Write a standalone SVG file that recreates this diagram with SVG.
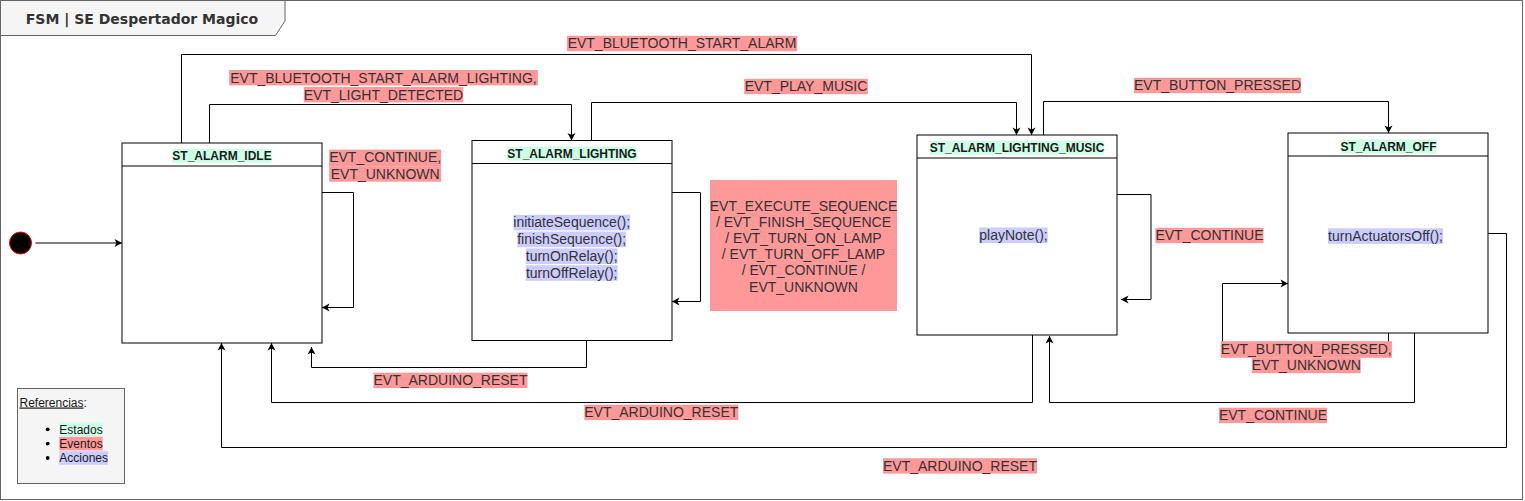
<svg xmlns="http://www.w3.org/2000/svg" width="1525" height="501" viewBox="0 0 1525 501">
<style>
.lbl{font-family:"Liberation Sans",Arial,Helvetica,sans-serif;font-size:14px;fill:#333333;text-anchor:middle}
.hdr{font-family:"Liberation Sans",Arial,Helvetica,sans-serif;font-size:12px;font-weight:bold;fill:#1a1a1a;text-anchor:middle}
.leg{font-family:"Liberation Sans",Arial,Helvetica,sans-serif;font-size:12px;fill:#1a1a1a}
.title{font-family:"DejaVu Sans",Verdana,sans-serif;font-size:14px;font-weight:bold;fill:#333333;text-anchor:middle}
.ev{fill:#ff9999}
.st{fill:#ccffe6}
.ac{fill:#ccccff}
.box{fill:#ffffff;stroke:#000000;stroke-width:1}
.sep{stroke:#000000;stroke-width:1;fill:none}
.edge{fill:none;stroke:#000000;stroke-width:1;marker-end:url(#arr)}
.frame{fill:none;stroke:#666666;stroke-width:1}
</style>
<defs>
<marker id="arr" markerUnits="userSpaceOnUse" markerWidth="10" markerHeight="10" viewBox="-9 -5 10 10" refX="0" refY="0" orient="auto">
<path d="M0,0 L-7.5,-4 L-5.5,0 L-7.5,4 Z" fill="#000000"/>
</marker>
</defs>

<!-- frame -->
<g id="frame">
<rect x="0.5" y="0.5" width="1522" height="499" fill="#ffffff" stroke="#666666" stroke-width="1"/>
<path d="M0.5,0.5 H285 V21 L275.5,35.5 H0.5 Z" fill="#f5f5f5" stroke="#666666" stroke-width="1"/>
<text class="title" x="142" y="23.5">FSM | SE Despertador Magico</text>
</g>

<!-- connectors -->
<g id="connectors">
<path class="edge" d="M35.5,243 H122"/>
<path class="edge" d="M322,192.5 H353.5 V307.5 H322"/>
<path class="edge" d="M672,192.5 H700.5 V301.5 H672"/>
<path class="edge" d="M1117,194.5 H1151 V299.5 H1121"/>
<path class="edge" d="M1388.5,333 V346 H1222.5 V283.5 H1288"/>
<path class="edge" d="M181.5,143 V54.5 H1031.5 V135"/>
<path class="edge" d="M209.5,143 V104.5 H571.5 V140.5"/>
<path class="edge" d="M591.5,140.5 V102.5 H1016.5 V135"/>
<path class="edge" d="M1043.5,135 V101.5 H1388.5 V133"/>
<path class="edge" d="M586.5,340.5 V367.5 H311.5 V347"/>
<path class="edge" d="M1032.5,335 V402.5 H271.5 V343"/>
<path class="edge" d="M1488,233.5 H1506.5 V447.5 H221.5 V343"/>
<path class="edge" d="M1414.5,333 V402.5 H1049.5 V336"/>
</g>

<!-- connector labels -->
<g id="edge-labels">
<rect class="ev" x="566.9" y="35.8" width="230.3" height="15.4"/>
<text class="lbl" x="682" y="48.3">EVT_BLUETOOTH_START_ALARM</text>

<rect class="ev" x="229.1" y="70" width="308.8" height="15.4"/>
<rect class="ev" x="303.8" y="87" width="159.5" height="15.4"/>
<text class="lbl" x="383.5" y="82.5">EVT_BLUETOOTH_START_ALARM_LIGHTING,</text>
<text class="lbl" x="383.5" y="99.5">EVT_LIGHT_DETECTED</text>

<rect class="ev" x="744.2" y="78.8" width="123.7" height="15.4"/>
<text class="lbl" x="806" y="91.3">EVT_PLAY_MUSIC</text>

<rect class="ev" x="1133.9" y="77.8" width="167.3" height="15.4"/>
<text class="lbl" x="1217.5" y="90.3">EVT_BUTTON_PRESSED</text>

<rect class="ev" x="329.2" y="149.6" width="112" height="16.8"/>
<rect class="ev" x="329.2" y="166.3" width="112" height="15.4"/>
<text class="lbl" x="385.2" y="162.1">EVT_CONTINUE,</text>
<text class="lbl" x="385.2" y="178.8">EVT_UNKNOWN</text>

<rect class="ev" x="710" y="180" width="187" height="131"/>
<text class="lbl" x="803.5" y="210.5">EVT_EXECUTE_SEQUENCE</text>
<text class="lbl" x="803.5" y="226.7">/ EVT_FINISH_SEQUENCE</text>
<text class="lbl" x="803.5" y="242.9">/ EVT_TURN_ON_LAMP</text>
<text class="lbl" x="803.5" y="259.1">/ EVT_TURN_OFF_LAMP</text>
<text class="lbl" x="803.5" y="275.3">/ EVT_CONTINUE /</text>
<text class="lbl" x="803.5" y="291.5">EVT_UNKNOWN</text>

<rect class="ev" x="1155.4" y="227.8" width="108.1" height="15.4"/>
<text class="lbl" x="1209.5" y="240.3">EVT_CONTINUE</text>

<rect class="ev" x="1220.7" y="341.2" width="171.2" height="16.6"/>
<rect class="ev" x="1251.8" y="357.8" width="108.9" height="15.4"/>
<text class="lbl" x="1306.3" y="353.7">EVT_BUTTON_PRESSED,</text>
<text class="lbl" x="1306.3" y="370.3">EVT_UNKNOWN</text>

<rect class="ev" x="373.5" y="372.7" width="154" height="15.4"/>
<text class="lbl" x="450.5" y="385.2">EVT_ARDUINO_RESET</text>

<rect class="ev" x="584.3" y="404.7" width="154" height="15.4"/>
<text class="lbl" x="661.3" y="417.2">EVT_ARDUINO_RESET</text>

<rect class="ev" x="1219" y="407.7" width="108.1" height="15.4"/>
<text class="lbl" x="1273" y="420.2">EVT_CONTINUE</text>

<rect class="ev" x="883" y="458.2" width="154" height="15.4"/>
<text class="lbl" x="960" y="470.7">EVT_ARDUINO_RESET</text>
</g>

<!-- initial state -->
<g id="initial">
<circle cx="20.5" cy="243" r="11" fill="#000000" stroke="#ff0000" stroke-width="1"/>
</g>

<!-- ST_ALARM_IDLE -->
<g id="st_alarm_idle">
<rect class="box" x="122" y="143" width="200" height="200"/>
<line class="sep" x1="122" y1="166" x2="322" y2="166"/>
<rect class="st" x="172.3" y="148.8" width="99.3" height="14"/>
<text class="hdr" x="222" y="159.8">ST_ALARM_IDLE</text>
</g>

<!-- ST_ALARM_LIGHTING -->
<g id="st_alarm_lighting">
<rect class="box" x="472" y="140.5" width="200" height="200"/>
<line class="sep" x1="472" y1="163.5" x2="672" y2="163.5"/>
<rect class="st" x="507.3" y="146.6" width="129.3" height="14"/>
<text class="hdr" x="572" y="157.6">ST_ALARM_LIGHTING</text>
<rect class="ac" x="513.4" y="214.8" width="116.7" height="15.6"/>
<rect class="ac" x="517.3" y="231.6" width="108.9" height="15.6"/>
<rect class="ac" x="525.8" y="248.4" width="91.8" height="15.6"/>
<rect class="ac" x="525.8" y="265.2" width="91.8" height="15.6"/>
<text class="lbl" x="571.7" y="227.3">initiateSequence();</text>
<text class="lbl" x="571.7" y="244.1">finishSequence();</text>
<text class="lbl" x="571.7" y="260.9">turnOnRelay();</text>
<text class="lbl" x="571.7" y="277.7">turnOffRelay();</text>
</g>

<!-- ST_ALARM_LIGHTING_MUSIC -->
<g id="st_alarm_lighting_music">
<rect class="box" x="917" y="135" width="200" height="200"/>
<line class="sep" x1="917" y1="158" x2="1117" y2="158"/>
<rect class="st" x="929.6" y="140.6" width="174.7" height="14"/>
<text class="hdr" x="1017" y="151.6">ST_ALARM_LIGHTING_MUSIC</text>
<rect class="ac" x="979.2" y="227.5" width="68.5" height="15.6"/>
<text class="lbl" x="1013.5" y="240">playNote();</text>
</g>

<!-- ST_ALARM_OFF -->
<g id="st_alarm_off">
<rect class="box" x="1288" y="133" width="200" height="200"/>
<line class="sep" x1="1288" y1="156" x2="1488" y2="156"/>
<rect class="st" x="1340.5" y="139.6" width="96" height="14"/>
<text class="hdr" x="1388.5" y="150.6">ST_ALARM_OFF</text>
<rect class="ac" x="1327.9" y="228.3" width="115.2" height="15.6"/>
<text class="lbl" x="1385.5" y="240.8">turnActuatorsOff();</text>
</g>

<!-- legend -->
<g id="legend">
<rect x="17.5" y="388.5" width="107" height="95" fill="#f5f5f5" stroke="#666666" stroke-width="1"/>
<text class="leg" x="19.5" y="406.5"><tspan text-decoration="underline">Referencias</tspan>:</text>
<circle cx="47.7" cy="429.3" r="1.9" fill="#000000"/>
<circle cx="47.7" cy="443.6" r="1.9" fill="#000000"/>
<circle cx="47.7" cy="458" r="1.9" fill="#000000"/>
<rect class="st" x="59.3" y="422.5" width="43.4" height="13.6"/>
<rect class="ev" x="59.3" y="436.8" width="43.4" height="13.6"/>
<rect class="ac" x="59.3" y="451.2" width="48.7" height="13.6"/>
<text class="leg" x="59.3" y="433.5">Estados</text>
<text class="leg" x="59.3" y="447.8">Eventos</text>
<text class="leg" x="59.3" y="462.2">Acciones</text>
</g>
</svg>
